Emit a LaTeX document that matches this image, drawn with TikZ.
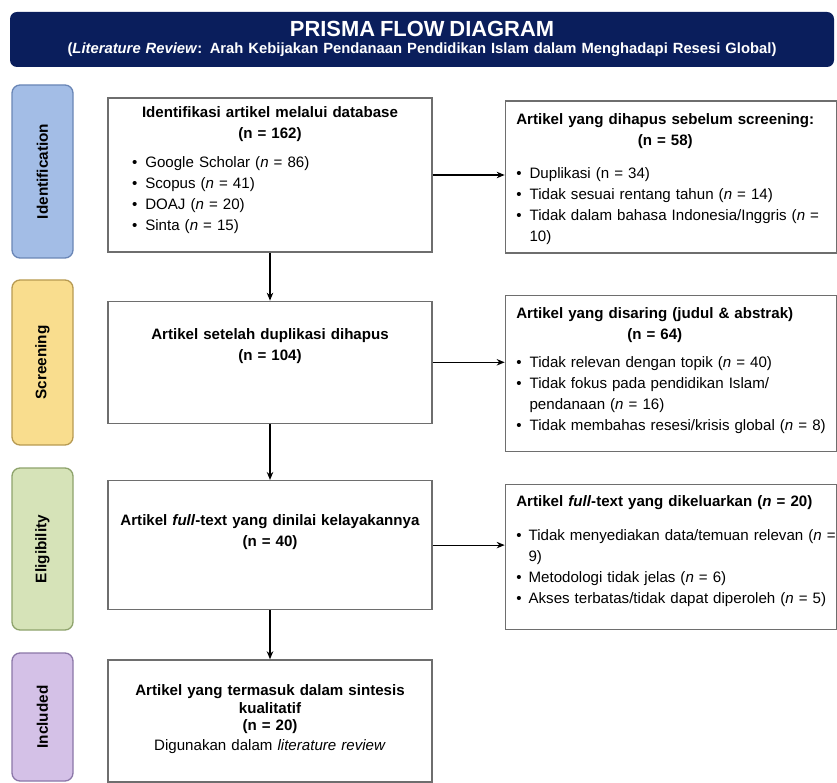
\documentclass[tikz,border=0pt]{standalone}
\usepackage{fontspec}
\setmainfont{Liberation Sans}
\usetikzlibrary{arrows.meta,positioning}
\definecolor{navy}{HTML}{0A1E5C}
\definecolor{idfill}{HTML}{A3BDE6}
\definecolor{iddraw}{HTML}{6A86B6}
\definecolor{scfill}{HTML}{F9DD8E}
\definecolor{scdraw}{HTML}{B79A52}
\definecolor{elfill}{HTML}{D6E3B8}
\definecolor{eldraw}{HTML}{8EA36C}
\definecolor{infill}{HTML}{D4C1E7}
\definecolor{indraw}{HTML}{8B77A8}
\definecolor{boxline}{HTML}{6E6E6E}
\newcommand{\itemlist}[2][0pt]{\begin{tabular}[t]{@{\hspace{#1}}l@{\hspace{8pt}}l@{}}#2\end{tabular}}
\newcommand{\nn}{\textit{n}}
\tikzset{
header/.style={rectangle, rounded corners=7pt, fill=navy, text=white, font=\bfseries\fontsize{14.8}{16.5}\selectfont, text width=816pt, inner xsep=4pt, align=center, inner ysep=0pt},
stage/.style={rectangle, rounded corners=8pt, draw, line width=1.3pt, rotate=90, minimum height=61pt, font=\bfseries\fontsize{15.3}{18}\selectfont},
main_box/.style={rectangle, draw=boxline, line width=1.3pt, text width=304pt, inner xsep=10pt, inner ysep=0pt, align=center},
side_box/.style={rectangle, draw=boxline, line width=1.3pt, text width=309pt, inner xsep=11pt, inner ysep=0pt, align=left},
flow/.style={-{Stealth[length=8pt,width=6.5pt]}, line width=1.2pt}
}
\begin{document}
\begin{tikzpicture}[x=1pt, y=-1pt, font=\fontsize{15.1}{21}\selectfont]
    \useasboundingbox (0,0) rectangle (837,783);
    \node[header, text height=24.5pt, text depth=30.5pt] (title) at (422,39.5) {{\fontsize{21.9}{24}\selectfont PRISMA FLOW DIAGRAM}\\[1pt](\textit{Literature Review}: Arah Kebijakan Pendanaan Pendidikan Islam dalam Menghadapi Resesi Global)};

    % phases on the left
    \node[stage, fill=idfill, draw=iddraw, minimum width=173pt] (stage_1) at (42.5,171.5) {Identification};
    \node[stage, fill=scfill, draw=scdraw, minimum width=165pt] (stage_2) at (42.5,362.5) {Screening};
    \node[stage, fill=elfill, draw=eldraw, minimum width=162pt] (stage_3) at (42.5,549) {Eligibility};
    \node[stage, fill=infill, draw=indraw, minimum width=128pt] (stage_4) at (42.5,717) {Included};

    % main column
    \node[main_box, text height=20pt, text depth=134pt] (box_1) at (270,175) {\textbf{Identifikasi artikel melalui database}\\\textbf{(n = 162)}\\[8pt]
        \makebox[304pt][l]{\itemlist[14pt]{\textbullet & Google Scholar (\nn{} = 86)\\ \textbullet & Scopus (\nn{} = 41)\\ \textbullet & DOAJ (\nn{} = 20)\\ \textbullet & Sinta (\nn{} = 15)}}};
    \node[main_box, text height=38pt, text depth=84pt, below=48pt of box_1] (box_2) {\textbf{Artikel setelah duplikasi dihapus}\\\textbf{(n = 104)}};
    \node[main_box, text height=45pt, text depth=84pt, below=56pt of box_2] (box_3) {\textbf{Artikel \textit{full}-text yang dinilai kelayakannya}\\\textbf{(n = 40)}};
    \node[main_box, font=\fontsize{15.1}{17.5}\selectfont, text height=36pt, text depth=86pt, below=49pt of box_3] (box_4) {\textbf{Artikel yang termasuk dalam sintesis}\\\textbf{kualitatif}\\\textbf{(n = 20)}\\[2pt]Digunakan dalam \textit{literature review}};

    % excluded records
    \node[side_box, text height=24pt, text depth=128pt, right=72pt of box_1, yshift=-2pt] (excl_1) {\begin{tabular}[t]{@{}c@{}}\textbf{Artikel yang dihapus sebelum screening:}\\\textbf{(n = 58)}\end{tabular}\par\vspace{11pt}
        \itemlist{\textbullet & Duplikasi (n = 34)\\ \textbullet & Tidak sesuai rentang tahun (\nn{} = 14)\\ \textbullet & Tidak dalam bahasa Indonesia/Inggris (\nn{} =\\ & 10)}};
    \node[side_box, text height=23pt, text depth=133pt, right=72pt of box_2, yshift=-11pt] (excl_2) {\begin{tabular}[t]{@{}c@{}}\textbf{Artikel yang disaring (judul \& abstrak)}\\\textbf{(n = 64)}\end{tabular}\par\vspace{6pt}
        \itemlist{\textbullet & Tidak relevan dengan topik (\nn{} = 40)\\ \textbullet & Tidak fokus pada pendidikan Islam/\\ & pendanaan (\nn{} = 16)\\ \textbullet & Tidak membahas resesi/krisis global (\nn{} = 8)}};
    \node[side_box, text height=22pt, text depth=123pt, right=72pt of box_3, yshift=-12pt] (excl_3) {\textbf{Artikel \textit{full}-text yang dikeluarkan (\textit{n} = 20)}\par\vspace{13pt}
        \begin{tabular}[t]{@{}l@{\hspace{7pt}}l@{}}\textbullet & Tidak menyediakan data/temuan relevan (\nn{} =\\ & 9)\\ \textbullet & Metodologi tidak jelas (\nn{} = 6)\\ \textbullet & Akses terbatas/tidak dapat diperoleh (\nn{} = 5)\end{tabular}};

    \draw[flow] (box_1) -- (box_2);
    \draw[flow] (box_2) -- (box_3);
    \draw[flow] (box_3) -- (box_4);
    \draw[flow] (box_1.east) -- (box_1.east -| excl_1.west);
    \draw[flow] (box_2.east) -- (box_2.east -| excl_2.west);
    \draw[flow] (box_3.east) -- (box_3.east -| excl_3.west);
\end{tikzpicture}
\end{document}
